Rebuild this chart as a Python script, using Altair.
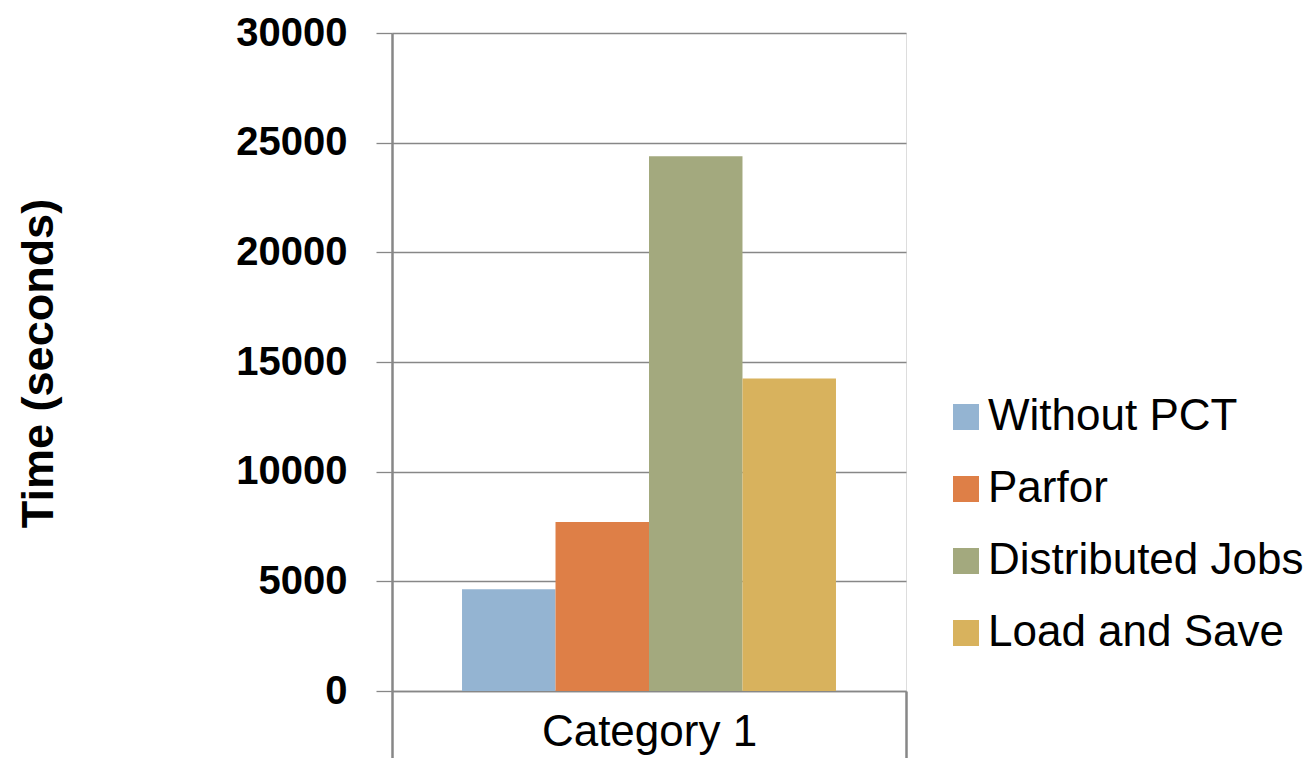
import altair as alt
import pandas as pd

# Run times for each parallelisation approach
category = ["Category 1"]
series = ["Without PCT", "Parfor", "Distributed Jobs", "Load and Save"]
times = [4640, 7700, 24380, 14250]
colors = ["#94B4D2", "#DE7F47", "#A3A97E", "#D8B25D"]
y_ticks = [0, 5000, 10000, 15000, 20000, 25000, 30000]

df = pd.DataFrame({
    "category": category * len(series),
    "series": series,
    "time": times,
})

grey = "#878787"

chart = alt.Chart(df).mark_bar().encode(
    x=alt.X(
        "category:N",
        scale=alt.Scale(paddingInner=0, paddingOuter=0),
        axis=alt.Axis(
            title=None,
            labelAngle=0,
            labelFont="Liberation Sans",
            labelFontSize=44,
            labelColor="#000000",
            labelBaseline="top",
            labelPadding=-48,
            labelLimit=0,
            tickBand="extent",
            tickSize=67,
            tickColor=grey,
            tickWidth=2.5,
            domainColor=grey,
            domainWidth=1.3,
        ),
    ),
    xOffset=alt.XOffset(
        "series:N",
        sort=series,
        scale=alt.Scale(paddingInner=0, paddingOuter=0.749),
    ),
    y=alt.Y(
        "time:Q",
        scale=alt.Scale(domain=[0, 30000], nice=False),
        axis=alt.Axis(
            values=y_ticks,
            format="d",
            title="Time (seconds)",
            titleFont="Liberation Sans",
            titleFontSize=45,
            titleFontWeight="bold",
            titleColor="#000000",
            titleAngle=-90,
            titleAlign="center",
            titleBaseline="alphabetic",
            titleX=-340,
            titleY=330,
            labelFont="Liberation Sans",
            labelFontSize=40,
            labelFontWeight="bold",
            labelColor="#000000",
            labelPadding=29,
            tickSize=16,
            tickColor=grey,
            tickWidth=1.3,
            domainColor=grey,
            domainWidth=2.5,
            grid=True,
            gridColor=grey,
            gridWidth=1.3,
        ),
    ),
    color=alt.Color(
        "series:N",
        sort=series,
        scale=alt.Scale(domain=series, range=colors),
        legend=alt.Legend(
            title=None,
            orient="none",
            legendX=552,
            legendY=362,
            symbolType="square",
            symbolSize=676,
            symbolStrokeWidth=0,
            symbolOpacity=1,
            labelFont="Liberation Sans",
            labelFontSize=44,
            labelColor="#000000",
            labelOffset=0,
            labelLimit=0,
            rowPadding=28,
            padding=0,
        ),
    ),
).properties(
    width=514,
    height=658,
    autosize=alt.AutoSizeParams(type="none"),
    padding={"left": 392, "top": 33, "right": 409, "bottom": 67},
).configure_view(
    stroke=None,
).configure(
    background="#FFFFFF",
)

chart.save("out.html", embed_options={"renderer": "svg", "actions": False})
